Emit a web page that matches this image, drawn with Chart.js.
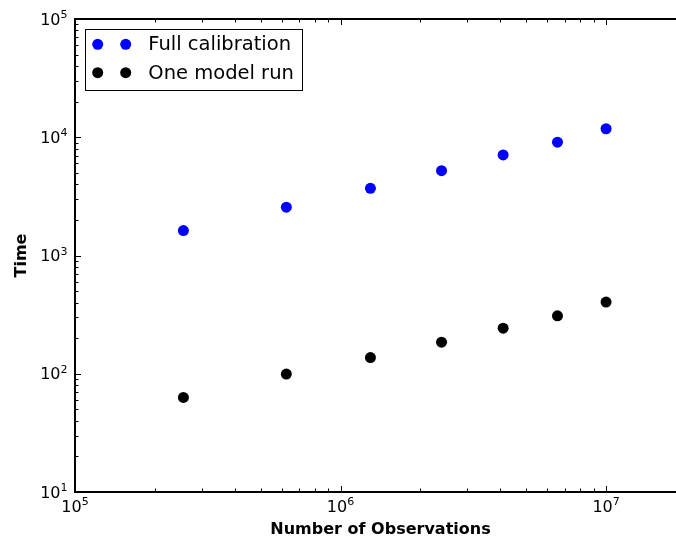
<!DOCTYPE html>
<html>
<head>
<meta charset="utf-8">
<title>Time vs number of observations</title>
<script src="https://cdn.jsdelivr.net/npm/chart.js@4.4.1/dist/chart.umd.min.js"></script>
<style>
    html, body { margin: 0; padding: 0; overflow: hidden; background: #fff; }
    #wrap { width: 676px; height: 539px; overflow: hidden; }
</style>
</head>
<body>
<div id="wrap"><canvas id="timeChart" width="700" height="539"></canvas></div>
<script>
// Data
const observations = [256000, 625000, 1296000, 2401000, 4096000, 6561000, 10000000];
const fullCalibration = [1625, 2560, 3700, 5220, 7090, 9080, 11800];
const oneModelRun = [63, 99.4, 137, 185, 243, 309, 404];
const seriesLabels = ['Full calibration', 'One model run'];
const xTickValues = [1e5, 1e6, 1e7];
const yTickValues = [1e1, 1e2, 1e3, 1e4, 1e5];

const FONT = 'DejaVu Sans';

function toPoints(xs, ys) {
    return xs.map((x, i) => ({ x: x, y: ys[i] }));
}

// draws "10" with a raised exponent, like matplotlib's mathtext labels
function drawPow(ctx, value, x, baseline, align) {
    const exp = String(Math.round(Math.log10(value)));
    ctx.font = '16px "' + FONT + '"';
    const w1 = ctx.measureText('10').width;
    ctx.font = '11px "' + FONT + '"';
    const w2 = ctx.measureText(exp).width;
    let start = x - (w1 + w2) / 2;
    if (align === 'right') start = x - (w1 + w2);
    ctx.textAlign = 'left';
    ctx.textBaseline = 'alphabetic';
    ctx.font = '16px "' + FONT + '"';
    ctx.fillText('10', start, baseline);
    ctx.font = '11px "' + FONT + '"';
    ctx.fillText(exp, start + w1, baseline - 6.4);
}

// Inward ticks on all four sides, the black frame and the tick labels
const frameTicks = {
    id: 'frameTicks',
    afterDatasetsDraw(chart) {
        const { ctx, chartArea: a, scales } = chart;
        const xs = scales.x, ys = scales.y;
        ctx.save();
        ctx.strokeStyle = '#000';
        ctx.lineWidth = 1;

        const decadeTicks = (min, max) => {
            const out = [];
            for (let d = Math.floor(Math.log10(min)); d <= Math.ceil(Math.log10(max)); d++) {
                for (let m = 1; m <= 9; m++) {
                    const v = m * Math.pow(10, d);
                    if (v >= min * 0.999 && v <= max * 1.001) out.push({ v: v, major: m === 1 });
                }
            }
            return out;
        };

        decadeTicks(xs.min, xs.max).forEach(t => {
            const px = Math.round(xs.getPixelForValue(t.v)) + 0.5;
            const len = t.major ? 6 : 3.5;
            ctx.beginPath();
            ctx.moveTo(px, a.bottom); ctx.lineTo(px, a.bottom - len);
            ctx.moveTo(px, a.top); ctx.lineTo(px, a.top + len);
            ctx.stroke();
        });
        decadeTicks(ys.min, ys.max).forEach(t => {
            const py = Math.round(ys.getPixelForValue(t.v)) + 0.5;
            const len = t.major ? 6 : 3.5;
            ctx.beginPath();
            ctx.moveTo(a.left, py); ctx.lineTo(a.left + len, py);
            ctx.moveTo(a.right, py); ctx.lineTo(a.right - len, py);
            ctx.stroke();
        });

        ctx.lineWidth = 2;
        ctx.strokeRect(a.left, a.top, a.right - a.left, a.bottom - a.top);

        ctx.fillStyle = '#000';
        xs.ticks.forEach(t => {
            drawPow(ctx, t.value, xs.getPixelForValue(t.value), a.bottom + 19.5, 'center');
        });
        ys.ticks.forEach(t => {
            drawPow(ctx, t.value, a.left - 7.5, ys.getPixelForValue(t.value) + 5.5, 'right');
        });
        ctx.restore();
    }
};

// Boxed legend inside the upper left corner, two markers per entry
const boxLegend = {
    id: 'boxLegend',
    afterDraw(chart) {
        const ctx = chart.ctx;
        const box = { x: 85.5, y: 29.5, w: 217, h: 61 };
        ctx.save();
        ctx.fillStyle = '#fff';
        ctx.fillRect(box.x, box.y, box.w, box.h);
        ctx.strokeStyle = '#000';
        ctx.lineWidth = 1;
        ctx.strokeRect(box.x, box.y, box.w, box.h);

        ctx.font = '19.5px "' + FONT + '"';
        ctx.textBaseline = 'middle';
        chart.data.datasets.forEach((ds, i) => {
            const y = 44.3 + i * 28.4;
            ctx.fillStyle = ds.backgroundColor;
            [97.7, 125.7].forEach(x => {
                ctx.beginPath();
                ctx.arc(x, y, ds.pointRadius, 0, Math.PI * 2);
                ctx.fill();
            });
            ctx.fillStyle = '#000';
            ctx.fillText(ds.label, 148.3, y + 1);
        });
        ctx.restore();
    }
};

new Chart(document.getElementById('timeChart'), {
    type: 'scatter',
    data: {
        datasets: [
            {
                label: seriesLabels[0],
                data: toPoints(observations, fullCalibration),
                backgroundColor: '#0000ff',
                borderColor: '#0000ff',
                borderWidth: 0,
                pointRadius: 5.5
            },
            {
                label: seriesLabels[1],
                data: toPoints(observations, oneModelRun),
                backgroundColor: '#000000',
                borderColor: '#000000',
                borderWidth: 0,
                pointRadius: 5.5
            }
        ]
    },
    options: {
        responsive: false,
        animation: false,
        layout: { padding: { top: 19, right: 14, left: 0, bottom: 0 } },
        plugins: {
            legend: { display: false },
            tooltip: { enabled: false }
        },
        scales: {
            x: {
                type: 'logarithmic',
                min: 1e5,
                max: 2e7,
                grid: { display: false, drawTicks: false },
                border: { display: false },
                afterBuildTicks: s => { s.ticks = xTickValues.map(v => ({ value: v })); },
                afterFit: s => { s.height = 47; },
                ticks: { display: false },
                title: {
                    display: true,
                    text: 'Number of Observations',
                    font: { family: FONT, size: 16, weight: 'bold' },
                    color: '#000',
                    padding: { top: 0, bottom: 0 }
                }
            },
            y: {
                type: 'logarithmic',
                min: 1e1,
                max: 1e5,
                grid: { display: false, drawTicks: false },
                border: { display: false },
                afterBuildTicks: s => { s.ticks = yTickValues.map(v => ({ value: v })); },
                afterFit: s => { s.width = 75; },
                ticks: { display: false },
                title: {
                    display: true,
                    text: 'Time',
                    font: { family: FONT, size: 16, weight: 'bold' },
                    color: '#000',
                    padding: { top: 12, bottom: 0 }
                }
            }
        }
    },
    plugins: [frameTicks, boxLegend]
});
</script>
</body>
</html>
